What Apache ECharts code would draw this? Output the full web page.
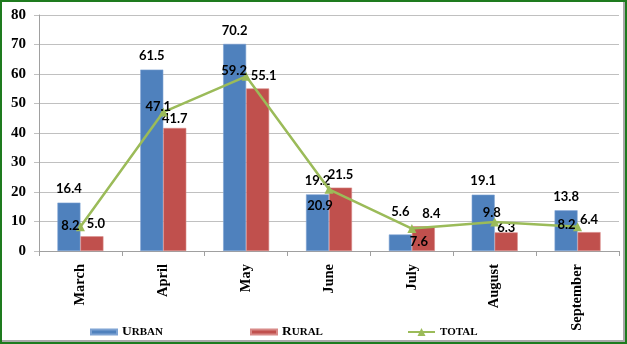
<!DOCTYPE html>
<html>
<head>
<meta charset="utf-8">
<script src="https://cdn.jsdelivr.net/npm/echarts@6/dist/echarts.min.js"></script>
<style>
  html, body { margin: 0; padding: 0; background: #fff; }
  #wrap { position: relative; width: 627px; height: 344px; }
  #chart { position: absolute; left: 0; top: 0; width: 627px; height: 344px; }
  #frame { position: absolute; left: 0; top: 0; width: 627px; height: 344px; box-sizing: border-box;
           border: 2px solid #1e7b1e; box-shadow: inset -2px -2px 0 #a8a8a8; pointer-events: none; }
</style>
</head>
<body>
<div id="wrap"><div id="chart"></div><div id="frame"></div></div>
<script>
// ---- data ----
const categories = ['March', 'April', 'May', 'June', 'July', 'August', 'September'];
const urban = [16.4, 61.5, 70.2, 19.2, 5.6, 19.1, 13.8];
const rural = [5.0, 41.7, 55.1, 21.5, 8.4, 6.3, 6.4];
const total = [8.2, 47.1, 59.2, 20.9, 7.6, 9.8, 8.2];
const yTicks = [0, 10, 20, 30, 40, 50, 60, 70, 80];

// label placement tweaks (pixel offsets), as in the original figure
const urbanLabelOffsets = [[0, 0], [0, 0], [0, 0], [0, 0], [0, -9], [0, 0], [0, 0]];
const ruralLabelOffsets = [[4, 0], [0, 3], [6, 0], [0, 0], [8, 0], [0, 8], [0, 0]];
const totalLabelOffsets = [[-10, -1], [-5, -5], [-12, -6], [-9, 16], [7, 13], [-3, -9], [-11, -2]];

const serif = "'Liberation Serif', 'Times New Roman', serif";
const sans = "Lato, 'Open Sans', sans-serif";
const C_URBAN = '#4F81BD', C_RURAL = '#C0504D', C_TOTAL = '#9BBB59';

const chart = echarts.init(document.getElementById('chart'), null, { renderer: 'canvas' });

const labelBase = { show: true, color: '#000', fontFamily: sans, fontWeight: 'bold', fontSize: 13,
  formatter: p => Number(p.value).toFixed(1) };

const legendText = {
  fontFamily: serif, fontWeight: 'bold', color: '#000', lineHeight: 14,
  rich: {
    a: { fontFamily: serif, fontWeight: 'bold', fontSize: 13.5, color: '#000', lineHeight: 14 },
    b: { fontFamily: serif, fontWeight: 'bold', fontSize: 11, color: '#000', lineHeight: 14 }
  }
};

function withOffsets(values, offsets) {
  return values.map((v, i) => ({ value: v, label: { offset: offsets[i] } }));
}

chart.setOption({
  animation: false,
  backgroundColor: '#fff',
  grid: { left: 39, right: 8, top: 15, bottom: 93, containLabel: false },
  legend: [
    { data: ['Urban'], left: 90, top: 325, padding: 0, itemWidth: 26, itemHeight: 5, itemGap: 0, icon: 'rect',
      textStyle: legendText, formatter: () => '{a|U}{b|RBAN}' },
    { data: ['Rural'], left: 250, top: 325, padding: 0, itemWidth: 26, itemHeight: 5, itemGap: 0, icon: 'rect',
      textStyle: legendText, formatter: () => '{a|R}{b|URAL}' },
    { data: ['Total'], left: 407, top: 325, padding: 0, itemWidth: 27, itemHeight: 10, itemGap: 0,
      textStyle: legendText, formatter: () => '{b|TOTAL}' }
  ],
  xAxis: {
    type: 'category', data: categories, boundaryGap: true,
    axisLine: { show: true, lineStyle: { color: '#a0a0a0', width: 1 } },
    axisTick: { show: true, length: 5, lineStyle: { color: '#a0a0a0' } },
    axisLabel: { rotate: 90, margin: 13, fontFamily: serif, fontWeight: 'bold', fontSize: 14.5, color: '#000' },
    splitLine: { show: false }
  },
  yAxis: {
    type: 'value', min: yTicks[0], max: yTicks[yTicks.length - 1], interval: yTicks[1] - yTicks[0],
    axisLine: { show: true, lineStyle: { color: '#a0a0a0', width: 1 } },
    axisTick: { show: true, length: 5, lineStyle: { color: '#c0c0c0' } },
    axisLabel: { margin: 13, fontFamily: serif, fontWeight: 'bold', fontSize: 15, color: '#000' },
    splitLine: { show: true, lineStyle: { color: '#c0c0c0', width: 1 } }
  },
  series: [
    { name: 'Urban', type: 'bar', data: withOffsets(urban, urbanLabelOffsets), barWidth: 23, barGap: '0%',
      itemStyle: { color: C_URBAN, borderColor: '#7ea3d3', borderWidth: 0.6 },
      label: Object.assign({}, labelBase, { position: 'top', distance: 7 }) },
    { name: 'Rural', type: 'bar', data: withOffsets(rural, ruralLabelOffsets), barWidth: 23, barGap: '0%',
      itemStyle: { color: C_RURAL, borderColor: '#d88a88', borderWidth: 0.6 },
      label: Object.assign({}, labelBase, { position: 'top', distance: 6 }) },
    { name: 'Total', type: 'line', z: 5,
      data: withOffsets(total, totalLabelOffsets),
      symbol: 'triangle', symbolSize: 9,
      lineStyle: { color: C_TOTAL, width: 2.5 },
      itemStyle: { color: C_TOTAL },
      label: Object.assign({}, labelBase, { position: 'inside' }) }
  ]
});
</script>
</body>
</html>
